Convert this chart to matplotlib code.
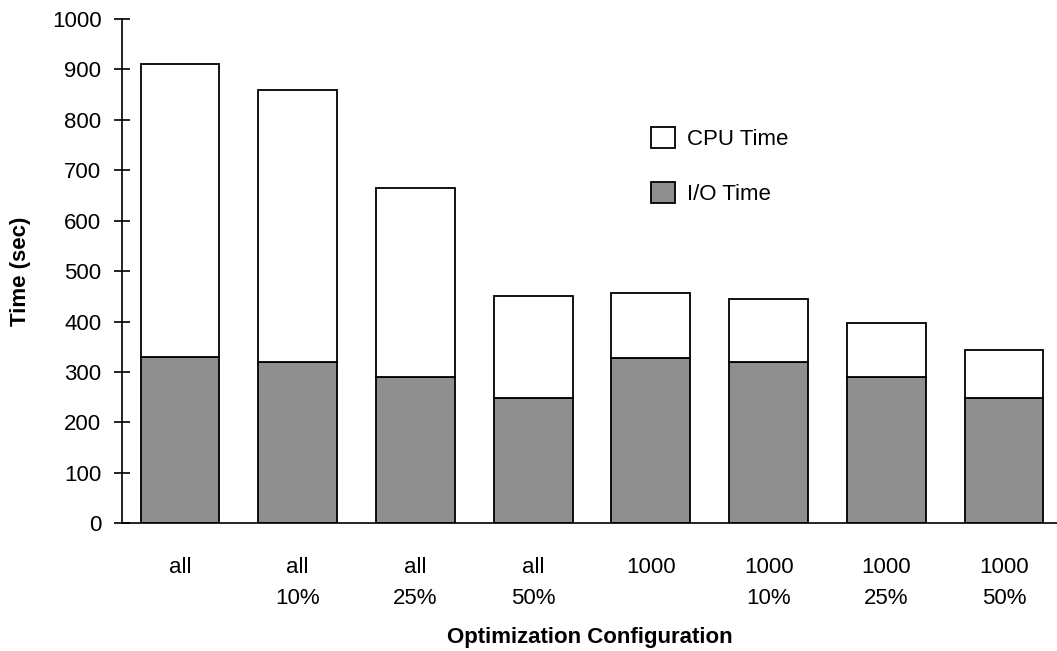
import matplotlib
matplotlib.use("Agg")
import matplotlib.pyplot as plt
import numpy as np

plt.rcParams["font.family"] = ["Liberation Sans", "DejaVu Sans"]

# configurations (two-line tick labels)
configs = ["all", "all\n10%", "all\n25%", "all\n50%",
           "1000", "1000\n10%", "1000\n25%", "1000\n50%"]
# seconds
io_time = [330, 320, 290, 248, 328, 320, 290, 249]
cpu_time = [580, 540, 375, 202, 128, 124, 108, 94]

GRAY = "#8f8f8f"

fig = plt.figure(figsize=(10.57, 6.51), dpi=100)
ax = fig.add_axes([0.1154, 0.196, 0.8846, 0.775])

x = np.arange(len(configs))
ax.bar(x, io_time, width=0.67, color=GRAY, edgecolor="black",
       linewidth=1.3, label="I/O Time")
ax.bar(x, cpu_time, width=0.67, bottom=io_time, color="white",
       edgecolor="black", linewidth=1.3, label="CPU Time")

ax.set_xlim(-0.493, 7.45)
ax.set_ylim(0, 1000)
ax.set_yticks(np.arange(0, 1001, 100))
ax.set_xticks(x)
ax.set_xticklabels(configs, linespacing=1.62)

ax.spines["top"].set_visible(False)
ax.spines["right"].set_visible(False)
ax.spines["left"].set_linewidth(1.2)
ax.spines["bottom"].set_linewidth(1.2)
ax.tick_params(axis="y", direction="inout", length=11.5, width=1.2,
               labelsize=16, pad=9)
ax.tick_params(axis="x", length=0, labelsize=16, pad=24)

ax.set_ylabel("Time (sec)", fontsize=16, fontweight="bold", labelpad=15)
ax.set_xlabel("Optimization Configuration", fontsize=16,
              fontweight="bold", labelpad=13)

handles, labels = ax.get_legend_handles_labels()
ax.legend(handles[::-1], labels[::-1], loc="upper left",
          bbox_to_anchor=(651 / 1057, 1 - 127 / 651),
          bbox_transform=fig.transFigure, frameon=False, fontsize=16,
          handlelength=1.07, handleheight=1.05, handletextpad=0.55,
          labelspacing=1.45, borderpad=0, borderaxespad=0)

fig.savefig("out.png", dpi=100)
